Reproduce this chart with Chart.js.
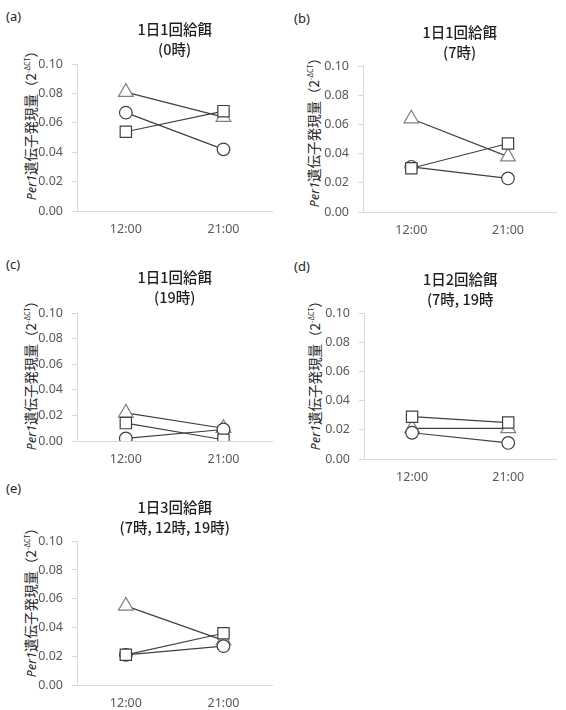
<!DOCTYPE html>
<html>
<head>
<meta charset="utf-8">
<script src="https://cdn.jsdelivr.net/npm/chart.js@4"></script>
<style>
  body { margin: 0; background: #fff; width: 566px; height: 710px; position: relative; overflow: hidden;
         font-family: "Noto Sans", "Noto Sans CJK JP", sans-serif; }
  canvas { position: absolute; }
  .tag { position: absolute; font-size: 13px; color: #262626; }
  .ylab { position: absolute; white-space: nowrap; color: #262626; font-size: 13.5px; line-height: 1;
          font-family: "Noto Sans CJK JP", sans-serif; transform: translate(-50%, -50%) rotate(-90deg); }
  .ylab i { font-family: "Noto Sans", sans-serif; font-size: 12.5px; }
  .ylab sup { font-size: 7px; }
</style>
</head>
<body>
<div class="tag" style="left:6px;top:7px">(a)</div>
<div class="tag" style="left:294px;top:9px">(b)</div>
<div class="tag" style="left:6px;top:255px">(c)</div>
<div class="tag" style="left:294px;top:257px">(d)</div>
<div class="tag" style="left:6px;top:479px">(e)</div>

<div class="ylab" style="left:31px;top:122px"><i>Per1</i>遺伝子発現量（2<sup>-ΔCT</sup>）</div>
<div class="ylab" style="left:314px;top:129px"><i>Per1</i>遺伝子発現量（2<sup>-ΔCT</sup>）</div>
<div class="ylab" style="left:31px;top:372px"><i>Per1</i>遺伝子発現量（2<sup>-ΔCT</sup>）</div>
<div class="ylab" style="left:315px;top:372px"><i>Per1</i>遺伝子発現量（2<sup>-ΔCT</sup>）</div>
<div class="ylab" style="left:31px;top:599px"><i>Per1</i>遺伝子発現量（2<sup>-ΔCT</sup>）</div>

<canvas id="chartA" width="255" height="221" style="left:27px;top:20px"></canvas>
<canvas id="chartB" width="253" height="219" style="left:313px;top:23px"></canvas>
<canvas id="chartC" width="255" height="203" style="left:27px;top:268px"></canvas>
<canvas id="chartD" width="252" height="219" style="left:314px;top:270px"></canvas>
<canvas id="chartE" width="255" height="212" style="left:27px;top:498px"></canvas>

<script>
// 時刻
const times = ['12:00', '21:00'];
const yTicks = [0, 0.02, 0.04, 0.06, 0.08, 0.10];

// (a) 1日1回給餌 (0時)
const triA = [0.081, 0.064];
const cirA = [0.067, 0.042];
const sqA = [0.054, 0.068];

// (b) 1日1回給餌 (7時)
const triB = [0.064, 0.038];
const cirB = [0.031, 0.023];
const sqB = [0.030, 0.047];

// (c) 1日1回給餌 (19時)
const triC = [0.022, 0.010];
const cirC = [0.002, 0.009];
const sqC = [0.014, 0.001];

// (d) 1日2回給餌 (7時, 19時)
const triD = [0.021, 0.021];
const cirD = [0.018, 0.011];
const sqD = [0.029, 0.025];

// (e) 1日3回給餌 (7時, 12時, 19時)
const triE = [0.055, 0.031];
const cirE = [0.021, 0.027];
const sqE = [0.021, 0.036];

const lineColor = '#404040';
const tickColor = '#595959';
const axisColor = '#d9d9d9';

function makePanel(id, title, tri, cir, sq, padBottom, xHeight) {
  const ctx = document.getElementById(id).getContext('2d');
  return new Chart(ctx, {
    type: 'line',
    data: {
      labels: times,
      datasets: [
        { data: sq, pointStyle: 'rect', pointRadius: 8, borderColor: lineColor,
          pointBorderColor: '#404040', pointBackgroundColor: '#fff' },
        { data: cir, pointStyle: 'circle', pointRadius: 6.3, borderColor: lineColor,
          pointBorderColor: '#404040', pointBackgroundColor: '#fff' },
        { data: tri, pointStyle: 'triangle', pointRadius: 8.5, borderColor: lineColor,
          pointBorderColor: '#808080', pointBackgroundColor: '#fff' }
      ].map(d => Object.assign(d, { borderWidth: 1.2, pointBorderWidth: 1.2, fill: false, tension: 0 }))
    },
    options: {
      responsive: false,
      animation: false,
      devicePixelRatio: 1,
      layout: { padding: 0 },
      plugins: {
        legend: { display: false },
        tooltip: { enabled: false },
        title: {
          display: true,
          text: title,
          fullSize: false,
          color: '#1f1f1f',
          font: { family: '"Noto Sans CJK JP", sans-serif', size: 14.5, weight: '500', lineHeight: '19.6px' },
          padding: { top: 0, bottom: padBottom }
        }
      },
      scales: {
        x: {
          offset: true,
          grid: { display: false, drawTicks: false },
          border: { display: true, color: axisColor, width: 1 },
          ticks: { color: tickColor, padding: 11, font: { family: '"Noto Sans", sans-serif', size: 12.5 } },
          afterFit: s => { s.height = xHeight; }
        },
        y: {
          min: 0,
          max: 0.1,
          afterBuildTicks: s => { s.ticks = yTicks.map(v => ({ value: v })); },
          grid: { drawOnChartArea: false, drawTicks: true, tickLength: 5, color: axisColor },
          border: { display: true, color: axisColor, width: 1 },
          ticks: { color: tickColor, padding: 9, font: { family: '"Noto Sans", sans-serif', size: 12.5 },
                   callback: v => Number(v).toFixed(2) },
          afterFit: s => { s.width = 50; }
        }
      }
    }
  });
}

makePanel('chartA', ['1日1回給餌', '(0時)'], triA, cirA, sqA, 5, 30);
makePanel('chartB', ['1日1回給餌', '(7時)'], triB, cirB, sqB, 4, 30);
makePanel('chartC', ['1日1回給餌', '(19時)'], triC, cirC, sqC, 6, 30);
makePanel('chartD', ['1日2回給餌', '(7時, 19時'], triD, cirD, sqD, 4, 30);
makePanel('chartE', ['1日3回給餌', '(7時, 12時, 19時)'], triE, cirE, sqE, 4, 25);
</script>
</body>
</html>
